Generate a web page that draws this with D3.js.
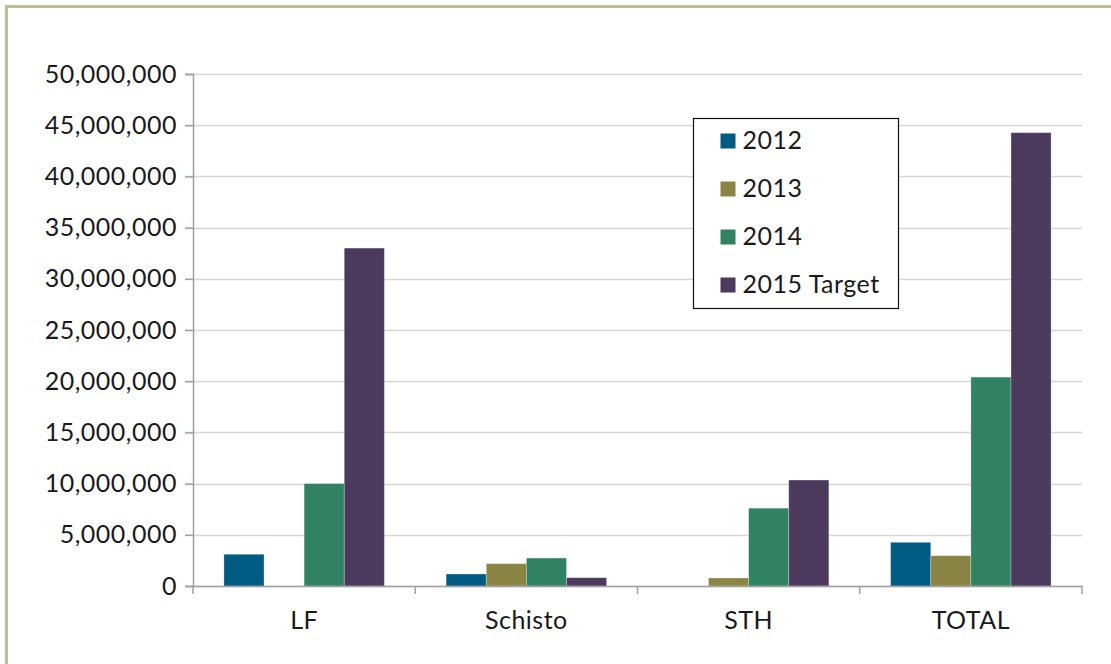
<!DOCTYPE html>
<html>
<head>
<meta charset="utf-8">
<script src="https://cdn.jsdelivr.net/npm/d3@7"></script>
<style>
  body { margin: 0; background: #fff; }
  svg { display: block; font-family: Lato, "Open Sans", sans-serif; }
</style>
</head>
<body>
<svg id="chart" width="1111" height="664"></svg>
<script>
const categories = ["LF", "Schisto", "STH", "TOTAL"];
const seriesNames = ["2012", "2013", "2014", "2015 Target"];
const values2012 = [3100000, 1170000, 0, 4270000];
const values2013 = [0, 2180000, 780000, 2960000];
const values2014 = [10000000, 2730000, 7600000, 20400000];
const values2015 = [33000000, 810000, 10350000, 44270000];
const yTicks = [0, 5000000, 10000000, 15000000, 20000000, 25000000, 30000000, 35000000, 40000000, 45000000, 50000000];
const colors = ["#015b83", "#8a8445", "#318163", "#4b3a5d"];

const allSeries = [values2012, values2013, values2014, values2015];

const svg = d3.select("#chart");
const width = 1111, height = 664;
const margin = { top: 74, right: 29, bottom: 78, left: 193 };
const fontSize = 25;

// outer frame (only top and left edges are visible)
svg.append("path")
    .attr("d", `M6.5,${height} V6.5 H${width}`)
    .attr("fill", "none")
    .attr("stroke", "#c2bd98")
    .attr("stroke-width", 3);

const x = d3.scaleBand()
    .domain(categories)
    .range([margin.left, width - margin.right])
    .paddingInner(0)
    .paddingOuter(0);

// gap width 150% -> 0.75 bar on each side of the group
const xInner = d3.scaleBand()
    .domain(seriesNames)
    .range([0, x.bandwidth()])
    .paddingInner(0)
    .paddingOuter(0.77);

const y = d3.scaleLinear()
    .domain([0, 50000000])
    .range([height - margin.bottom, margin.top]);

// gridlines
svg.append("g")
    .selectAll("line")
    .data(yTicks)
    .join("line")
    .attr("x1", margin.left - 8)
    .attr("x2", width - margin.right)
    .attr("y1", d => Math.round(y(d)) + 0.5)
    .attr("y2", d => Math.round(y(d)) + 0.5)
    .attr("stroke", "#d6d6d6")
    .attr("stroke-width", 1.5);

// y axis
const yAxis = svg.append("g")
    .attr("transform", `translate(${margin.left}, 0)`)
    .call(d3.axisLeft(y).tickValues(yTicks).tickFormat(d3.format(",")).tickSize(8).tickPadding(8));
yAxis.select(".domain").attr("stroke", "#a0a0a0").attr("stroke-width", 1.5);
yAxis.selectAll(".tick line").attr("stroke", "#a0a0a0").attr("stroke-width", 1.5);
yAxis.selectAll(".tick text")
    .attr("font-size", fontSize)
    .attr("letter-spacing", 0.5)
    .attr("font-family", "Lato, 'Open Sans', sans-serif")
    .attr("fill", "#1a1a1a");

// bars
const groups = svg.append("g")
    .selectAll("g")
    .data(categories)
    .join("g")
    .attr("transform", d => `translate(${x(d)}, 0)`);

groups.selectAll("rect")
    .data((c, ci) => seriesNames.map((s, si) => ({ s, si, v: allSeries[si][ci] })))
    .join("rect")
    .attr("x", d => xInner(d.s))
    .attr("width", xInner.bandwidth())
    .attr("y", d => y(d.v))
    .attr("height", d => y(0) - y(d.v))
    .attr("fill", d => colors[d.si])
    .attr("stroke", "#ffffff")
    .attr("stroke-opacity", 0.35)
    .attr("stroke-width", 0.8);

// x axis
const xAxis = svg.append("g")
    .attr("transform", `translate(0, ${height - margin.bottom})`)
    .call(d3.axisBottom(x).tickSize(0).tickPadding(25));
xAxis.select(".domain").attr("stroke", "#a0a0a0").attr("stroke-width", 1.5);
xAxis.selectAll(".tick text")
    .attr("font-size", fontSize)
    .attr("letter-spacing", 0.5)
    .attr("font-family", "Lato, 'Open Sans', sans-serif")
    .attr("fill", "#1a1a1a");

// category boundary ticks
const bounds = categories.map(c => x(c)).concat([x(categories[categories.length - 1]) + x.bandwidth()]);
svg.append("g")
    .selectAll("line")
    .data(bounds)
    .join("line")
    .attr("x1", d => d)
    .attr("x2", d => d)
    .attr("y1", y(0))
    .attr("y2", y(0) + 8)
    .attr("stroke", "#a0a0a0")
    .attr("stroke-width", 1.5);

// legend
const legend = svg.append("g").attr("transform", "translate(693.5, 118.5)");
legend.append("rect")
    .attr("width", 205)
    .attr("height", 190)
    .attr("fill", "#fff")
    .attr("stroke", "#111")
    .attr("stroke-width", 1.2);

const items = legend.selectAll("g.item")
    .data(seriesNames)
    .join("g")
    .attr("class", "item")
    .attr("transform", (d, i) => `translate(0, ${22 + i * 48})`);
items.append("rect")
    .attr("x", 27)
    .attr("y", -7)
    .attr("width", 15)
    .attr("height", 15)
    .attr("fill", (d, i) => colors[i]);
items.append("text")
    .attr("x", 49)
    .attr("y", 0)
    .attr("dy", "0.35em")
    .attr("font-size", fontSize)
    .attr("letter-spacing", 0.5)
    .attr("fill", "#1a1a1a")
    .text(d => d);
</script>
</body>
</html>
